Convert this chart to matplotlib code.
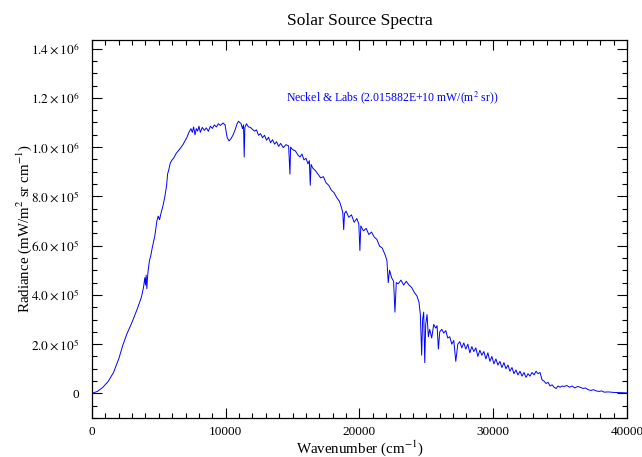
import numpy as np
import matplotlib
matplotlib.use("Agg")
import matplotlib.pyplot as plt
from matplotlib.ticker import MultipleLocator

plt.rcParams['font.family'] = ['Liberation Serif', 'DejaVu Serif']
plt.rcParams['mathtext.fontset'] = 'stix'

# wavenumber (cm^-1) and radiance (units of 1e3 mW/(m2 sr cm-1))
wavenumber = [
    0, 400, 800, 1200, 1600, 2000, 2300, 2600, 3000, 3400, 3700, 3850, 3950, 4000,
    4050, 4100, 4150, 4200, 4300, 4400, 4500, 4700, 4850, 4950, 5050, 5150, 5300,
    5450, 5580, 5650, 5750, 5850, 5950, 6100, 6300, 6450, 6600, 6800, 6950, 7100,
    7250, 7400, 7500, 7600, 7700, 7800, 7900, 8000, 8100, 8250, 8400, 8550, 8700,
    8850, 9000, 9150, 9300, 9450, 9600, 9800, 9950, 10100, 10250, 10400, 10550,
    10700, 10850, 10950, 11050, 11150, 11250, 11330, 11380, 11430, 11550, 11700,
    11850, 12000, 12150, 12300, 12450, 12600, 12750, 12900, 13050, 13200, 13350,
    13500, 13650, 13800, 13950, 14100, 14300, 14500, 14700, 14800, 14850, 15000,
    15200, 15400, 15550, 15700, 15850, 16000, 16150, 16250, 16320, 16380, 16500,
    16700, 16900, 17100, 17300, 17500, 17700, 17900, 18100, 18300, 18500, 18650,
    18750, 18820, 18880, 19000, 19200, 19400, 19600, 19800, 19950, 20030, 20100,
    20300, 20500, 20700, 20900, 21100, 21300, 21500, 21700, 21900, 22050, 22150,
    22250, 22400, 22550, 22650, 22750, 22900, 23100, 23300, 23500, 23700, 23900,
    24100, 24300, 24450, 24550, 24650, 24720, 24800, 24880, 24950, 25050, 25150,
    25250, 25400, 25550, 25700, 25800, 25900, 26000, 26150, 26300, 26450, 26600,
    26750, 26900, 27050, 27200, 27350, 27500, 27650, 27800, 27950, 28100, 28250,
    28400, 28550, 28700, 28850, 29000, 29150, 29300, 29450, 29600, 29750, 29900,
    30050, 30200, 30350, 30500, 30650, 30800, 30950, 31100, 31250, 31400, 31550,
    31700, 31850, 32000, 32150, 32300, 32450, 32600, 32750, 32900, 33050, 33200,
    33350, 33500, 33650, 33800, 33950, 34100, 34250, 34400, 34550, 34700, 34850,
    35000, 35150, 35300, 35500, 35700, 35900, 36100, 36300, 36500, 36700, 36900,
    37100, 37300, 37500, 37700, 37900, 38100, 38300, 38600, 39000, 39500, 40000,
]
radiance_k = [
    0, 8, 24, 48, 84, 140, 195, 240, 290, 345, 392, 430, 470, 440,
    480, 425, 470, 500, 540, 560, 590, 640, 700, 720, 705, 730, 760,
    800, 845, 890, 910, 935, 945, 955, 975, 985, 995, 1010, 1025, 1040,
    1060, 1075, 1060, 1082, 1050, 1075, 1065, 1085, 1060, 1080, 1068, 1078, 1064,
    1085, 1076, 1090, 1082, 1095, 1088, 1098, 1090, 1040, 1025, 1035, 1050,
    1070, 1095, 1105, 1100, 1095, 1075, 1090, 960, 1080, 1095, 1082,
    1080, 1072, 1065, 1070, 1048, 1055, 1038, 1048, 1028, 1040, 1018,
    1030, 1012, 1022, 1003, 1015, 998, 1010, 1005, 890, 1000, 990,
    985, 968, 960, 972, 948, 955, 932, 945, 845, 930, 915,
    905, 890, 875, 880, 855, 845, 825, 815, 795, 780, 755,
    735, 665, 730, 740, 715, 725, 695, 710, 688, 580, 680,
    660, 670, 645, 655, 635, 625, 598, 590, 565, 540, 450,
    500, 470, 455, 330, 450, 445, 460, 440, 455, 440, 430,
    410, 395, 370, 320, 155, 300, 330, 125, 280, 320, 230,
    260, 225, 280, 265, 275, 180, 250, 260, 245, 255, 225,
    230, 200, 215, 130, 200, 210, 185, 205, 180, 200, 165,
    190, 170, 185, 150, 175, 155, 170, 140, 165, 130, 150,
    120, 140, 115, 130, 105, 125, 100, 115, 90, 105, 80,
    95, 75, 90, 70, 85, 65, 80, 70, 85, 75, 90,
    80, 85, 55, 50, 40, 45, 30, 35, 25, 20, 30,
    25, 30, 28, 32, 25, 30, 22, 28, 25, 20, 22,
    15, 12, 15, 10, 8, 10, 5, 6, 4, 3, 2,
]

y_ticks = [0, 2e5, 4e5, 6e5, 8e5, 1.0e6, 1.2e6, 1.4e6]
y_tick_labels = ['0', r'$2.0\times10^5$', r'$4.0\times10^5$', r'$6.0\times10^5$',
                 r'$8.0\times10^5$', r'$1.0\times10^6$', r'$1.2\times10^6$',
                 r'$1.4\times10^6$']
x_ticks = [0, 10000, 20000, 30000, 40000]

w = np.array(wavenumber)
r = np.array(radiance_k) * 1e3

fig = plt.figure(figsize=(6.42, 4.57), dpi=100)
ax = fig.add_axes([0.1433, 0.0853, 0.8333, 0.8272])

ax.plot(w, r, color='#0000ff', lw=0.7)

ax.set_xlim(0, 40000)
ax.set_ylim(-1e5, 1.435e6)
ax.set_xticks(x_ticks)
ax.set_xticklabels([str(t) for t in x_ticks])
ax.set_yticks(y_ticks)
ax.set_yticklabels(y_tick_labels)
ax.xaxis.set_minor_locator(MultipleLocator(1000))
ax.yaxis.set_minor_locator(MultipleLocator(5e4))
ax.tick_params(which='both', direction='in', top=True, right=True, labelsize=9.5,
               width=0.8, colors='black')
ax.tick_params(which='major', length=7)
ax.tick_params(which='minor', length=3.5)
ax.tick_params(axis='y', which='major', pad=9)
ax.tick_params(axis='x', which='major', pad=6)
for s in ax.spines.values():
    s.set_linewidth(0.9)

ax.set_title('Solar Source Spectra', fontsize=12.5, pad=11)
ax.set_xlabel(r'Wavenumber (cm$^{-1}$)', fontsize=10.8, labelpad=0)
ax.set_ylabel(r'Radiance (mW/m$^2$ sr cm$^{-1}$)', fontsize=10.8, labelpad=-2)

ax.text(14500, 1.2e6, r'Neckel & Labs (2.015882E+10 mW/(m$^2$ sr))',
        color='#0000ff', fontsize=8.5, va='center', ha='left')

fig.savefig('out.png', dpi=100)
